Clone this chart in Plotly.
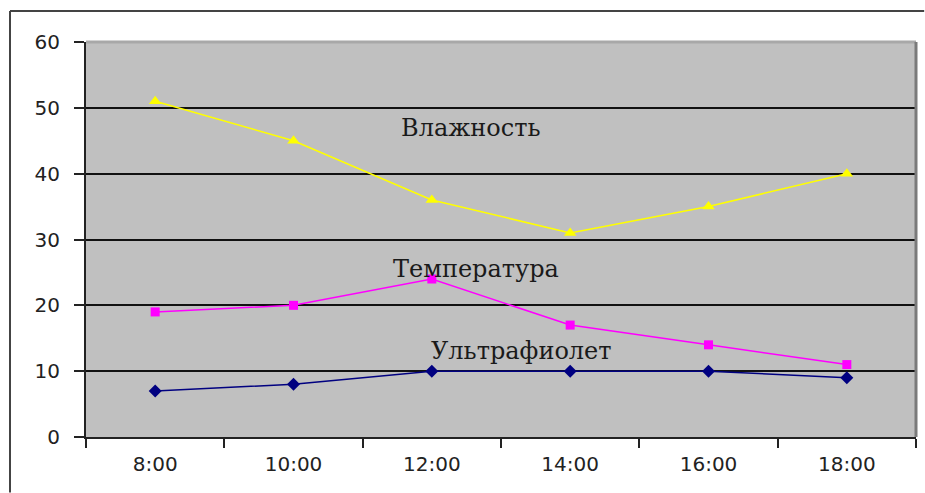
import plotly.graph_objects as go

# Hourly readings
hours = ["8:00", "10:00", "12:00", "14:00", "16:00", "18:00"]
humidity = [51, 45, 36, 31, 35, 40]
temperature = [19, 20, 24, 17, 14, 11]
ultraviolet = [7, 8, 10, 10, 10, 9]

series_names = ["Влажность", "Температура", "Ультрафиолет"]
y_ticks = [0, 10, 20, 30, 40, 50, 60]

W, H = 925, 493
M = dict(l=86, r=9, t=42, b=56)
plot_w = W - M["l"] - M["r"]
plot_h = H - M["t"] - M["b"]

fig = go.Figure()

fig.add_trace(go.Scatter(
    x=hours, y=humidity, name=series_names[0], mode="lines+markers",
    line=dict(color="#ffff00", width=1.5),
    marker=dict(symbol="triangle-up", size=11, color="#ffff00"),
))
fig.add_trace(go.Scatter(
    x=hours, y=temperature, name=series_names[1], mode="lines+markers",
    line=dict(color="#ff00ff", width=1.5),
    marker=dict(symbol="square", size=9, color="#ff00ff"),
))
fig.add_trace(go.Scatter(
    x=hours, y=ultraviolet, name=series_names[2], mode="lines+markers",
    line=dict(color="#000080", width=1.5),
    marker=dict(symbol="diamond", size=10, color="#000080"),
))

# Series names placed inside the plot next to their lines
label_pos = [(2.28, 47), (2.32, 25.5), (2.65, 13)]
for name, (lx, ly) in zip(series_names, label_pos):
    fig.add_annotation(
        x=lx, y=ly, xref="x", yref="y", text=name, showarrow=False,
        font=dict(family="DejaVu Serif", size=24, color="#1a1a1a"),
    )

# Plot-area edges on the top and right (the top one hides the 60 gridline)
fig.add_shape(type="line", xref="x domain", yref="y domain", x0=0, x1=1, y0=1, y1=1,
              line=dict(color="#a8a8a8", width=3), layer="above")
fig.add_shape(type="line", xref="x domain", yref="y domain", x0=1, x1=1, y0=0, y1=1,
              line=dict(color="#7a7a7a", width=3), layer="above")

# Outer chart frame: top and left edges, kept inside the page bounds
frame_left = (10 - M["l"]) / plot_w
frame_top = 1 + (M["t"] - 11) / plot_h
page_right = (W - M["l"]) / plot_w - 0.001
page_bottom = -M["b"] / plot_h + 0.001
fig.add_shape(type="line", xref="paper", yref="paper",
              x0=frame_left, x1=page_right, y0=frame_top, y1=frame_top,
              line=dict(color="#444444", width=2))
fig.add_shape(type="line", xref="paper", yref="paper",
              x0=frame_left, x1=frame_left, y0=page_bottom, y1=frame_top,
              line=dict(color="#444444", width=2))

tick_font = dict(family="DejaVu Sans", size=20, color="#222222")

fig.update_layout(
    width=W, height=H,
    margin=M,
    paper_bgcolor="white", plot_bgcolor="#c0c0c0",
    showlegend=False,
    xaxis=dict(
        type="category", range=[-0.5, 5.5], tickson="boundaries",
        ticks="outside", ticklen=9, tickwidth=2, tickcolor="#222222",
        showline=True, linecolor="#222222", linewidth=2, mirror=False,
        showgrid=False, tickfont=tick_font, ticklabelstandoff=8,
    ),
    yaxis=dict(
        range=[0, 60], tickvals=y_ticks, ticks="outside", ticklen=10,
        tickwidth=2, tickcolor="#222222",
        showline=True, linecolor="#222222", linewidth=2,
        showgrid=True, gridcolor="#111111", gridwidth=2,
        zeroline=False, tickfont=tick_font, ticklabelstandoff=10,
    ),
)

fig.write_html("out.html")
